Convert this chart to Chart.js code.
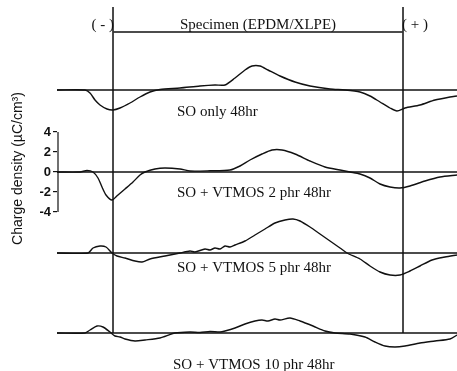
<!DOCTYPE html>
<html>
<head>
<meta charset="utf-8">
<script src="https://cdn.jsdelivr.net/npm/chart.js@4.4.1/dist/chart.umd.min.js"></script>
<style>
  html, body { margin: 0; padding: 0; background: #fff; }
  #wrap { width: 457px; height: 371px; position: relative; }
</style>
</head>
<body>
<div id="wrap"><canvas id="c"></canvas></div>
<script>
// Depth position across the sample (arbitrary units, 0 = left edge of trace)
const depth1 = [0, 28, 33, 38, 43, 50, 56, 63, 73, 83, 93, 103, 123, 143, 158, 168, 178, 188, 195, 203, 211, 223, 238, 253, 273, 288, 303, 313, 323, 333, 340, 348, 363, 378, 393, 400];
const so48 =   [0, 0, -0.3, -1.0, -1.5, -1.9, -2.0, -1.8, -1.3, -0.7, -0.2, 0.05, 0.2, 0.4, 0.5, 0.5, 1.2, 2.0, 2.4, 2.4, 2.0, 1.4, 0.8, 0.4, 0.1, 0, -0.2, -0.6, -1.2, -1.8, -2.1, -1.8, -1.5, -1.0, -0.7, -0.6];

const depth2 = [0, 23, 30, 36, 41, 45, 49, 55, 61, 68, 76, 83, 88, 98, 108, 123, 133, 153, 173, 183, 193, 205, 215, 225, 238, 253, 268, 283, 293, 303, 313, 323, 333, 343, 353, 368, 383, 400];
const vt2 =    [0, 0, 0.15, 0, -0.6, -1.5, -2.3, -2.8, -2.3, -1.7, -1.0, -0.3, 0, 0.3, 0.4, 0.3, 0.1, 0.12, 0.2, 0.6, 1.2, 1.8, 2.2, 2.2, 1.8, 1.1, 0.5, 0.2, 0, -0.2, -0.6, -1.2, -1.5, -1.6, -1.4, -0.9, -0.5, -0.3];

const depth3 = [0, 31, 36, 43, 49, 55, 60, 68, 78, 85, 93, 108, 123, 133, 138, 148, 153, 158, 163, 168, 173, 178, 188, 198, 208, 218, 228, 236, 243, 253, 263, 273, 283, 290, 303, 313, 323, 333, 343, 353, 363, 375, 388, 400];
const vt5 =    [0, 0, 0.5, 0.7, 0.6, 0, -0.3, -0.5, -0.8, -0.9, -0.6, -0.3, 0, 0.2, 0.1, 0.4, 0.3, 0.5, 0.4, 0.7, 0.6, 0.8, 1.2, 1.8, 2.4, 3.0, 3.3, 3.4, 3.2, 2.6, 1.9, 1.2, 0.5, 0, -0.6, -1.3, -1.9, -2.2, -2.2, -1.8, -1.3, -0.7, -0.4, -0.2];

const depth4 = [0, 28, 33, 40, 46, 53, 58, 63, 68, 78, 88, 103, 118, 133, 143, 153, 163, 168, 178, 188, 198, 205, 211, 218, 223, 233, 243, 256, 268, 278, 293, 308, 318, 328, 338, 348, 363, 378, 393, 400];
const vt10 =   [0, 0, 0.3, 0.7, 0.6, 0.1, -0.3, -0.4, -0.6, -0.8, -0.7, -0.5, 0, 0.1, 0.05, 0.15, 0.1, 0.2, 0.5, 0.9, 1.2, 1.3, 1.2, 1.4, 1.3, 1.5, 1.2, 0.7, 0.2, 0, -0.1, -0.4, -0.9, -1.3, -1.4, -1.3, -1.0, -0.8, -0.6, -0.2];

const seriesLabels = ["SO only 48hr", "SO + VTMOS 2 phr 48hr", "SO + VTMOS 5 phr 48hr", "SO + VTMOS 10 phr 48hr"];
const yTickValues = [-4, -2, 0, 2, 4];
const electrodes = [56, 346];          // sample edges (depth units)
const electrodeLabels = ["( - )", "( + )"];
const specimenLabel = "Specimen (EPDM/XLPE)";
const yTitle = "Charge density (\u00B5C/cm\u00B3)";

// layout: vertical stacking offsets of each trace (display only)
const OFFSETS = [8.2, 0, -8.1, -16.1];
const Y_MIN = -16.5, Y_MAX = 17.2;

const depths = [depth1, depth2, depth3, depth4];
const values = [so48, vt2, vt5, vt10];

const datasets = [];
values.forEach((vals, i) => {
  datasets.push({
    data: depths[i].map((d, k) => ({x: d, y: vals[k] + OFFSETS[i]})),
    borderColor: '#111', borderWidth: 1.4, pointRadius: 0, tension: 0.25, clip: false
  });
  datasets.push({
    data: [{x: 0, y: OFFSETS[i]}, {x: 400, y: OFFSETS[i]}],
    borderColor: '#111', borderWidth: 1.4, pointRadius: 0, clip: false
  });
});
// electrode vertical lines
electrodes.forEach(e => {
  datasets.push({
    data: [{x: e, y: 16.5}, {x: e, y: OFFSETS[3]}],
    borderColor: '#333', borderWidth: 1, pointRadius: 0, clip: false
  });
});
// specimen span line
datasets.push({
  data: [{x: electrodes[0], y: 14.0}, {x: electrodes[1], y: 14.0}],
  borderColor: '#111', borderWidth: 1.4, pointRadius: 0, clip: false
});

const annot = {
  id: 'annot',
  afterDraw(chart) {
    const ctx = chart.ctx;
    const xs = chart.scales.x, ys = chart.scales.y;
    ctx.save();
    // y axis segment
    ctx.strokeStyle = '#111';
    ctx.lineWidth = 1.2;
    const ax = xs.getPixelForValue(0) + 1;
    ctx.beginPath();
    ctx.moveTo(ax, ys.getPixelForValue(4));
    ctx.lineTo(ax, ys.getPixelForValue(-4));
    ctx.stroke();

    ctx.fillStyle = '#111';
    ctx.font = '15px "Liberation Serif", "Times New Roman", serif';
    ctx.textAlign = 'center';
    ctx.textBaseline = 'middle';
    const mid = (xs.getPixelForValue(electrodes[0]) + xs.getPixelForValue(electrodes[1])) / 2;
    ctx.fillText(specimenLabel, mid, ys.getPixelForValue(14.7));
    ctx.textAlign = 'right';
    ctx.fillText(electrodeLabels[0], xs.getPixelForValue(electrodes[0]) + 1, ys.getPixelForValue(14.7));
    ctx.textAlign = 'left';
    ctx.fillText(electrodeLabels[1], xs.getPixelForValue(electrodes[1]) - 1, ys.getPixelForValue(14.7));

    ctx.textAlign = 'left';
    const labelPos = [[177, OFFSETS[0] - 2.2], [177, OFFSETS[1] - 2.1], [177, OFFSETS[2] - 1.5], [173, OFFSETS[3] - 3.2]];
    seriesLabels.forEach((t, i) => {
      ctx.fillText(t, labelPos[i][0], ys.getPixelForValue(labelPos[i][1]));
    });
    ctx.restore();
  }
};

new Chart(document.getElementById('c'), {
  type: 'line',
  data: { datasets },
  plugins: [annot],
  options: {
    responsive: true,
    maintainAspectRatio: false,
    animation: false,
    layout: { autoPadding: false, padding: { left: 0, right: 0, top: 0, bottom: 34 } },
    plugins: { legend: { display: false }, tooltip: { enabled: false } },
    scales: {
      x: { type: 'linear', min: 0, max: 400, display: false },
      y: {
        type: 'linear', min: Y_MIN, max: Y_MAX,
        afterBuildTicks(scale) { scale.ticks = yTickValues.map(v => ({value: v})); },
        afterFit(scale) { scale.width = 57; scale.paddingTop = 0; scale.paddingBottom = 0; },
        border: { display: false },
        grid: { drawOnChartArea: false, drawTicks: true, tickLength: 4, color: '#111', lineWidth: 1.2 },
        ticks: {
          padding: 2, color: '#111',
          font: { family: '"Liberation Sans", Arial, sans-serif', size: 13, weight: 'bold' },
          callback: v => String(v)
        },
        title: {
          display: true, text: yTitle, color: '#111',
          font: { family: '"Liberation Sans", Arial, sans-serif', size: 14 },
          padding: { top: 10, bottom: 0 }
        }
      }
    }
  }
});
</script>
</body>
</html>
